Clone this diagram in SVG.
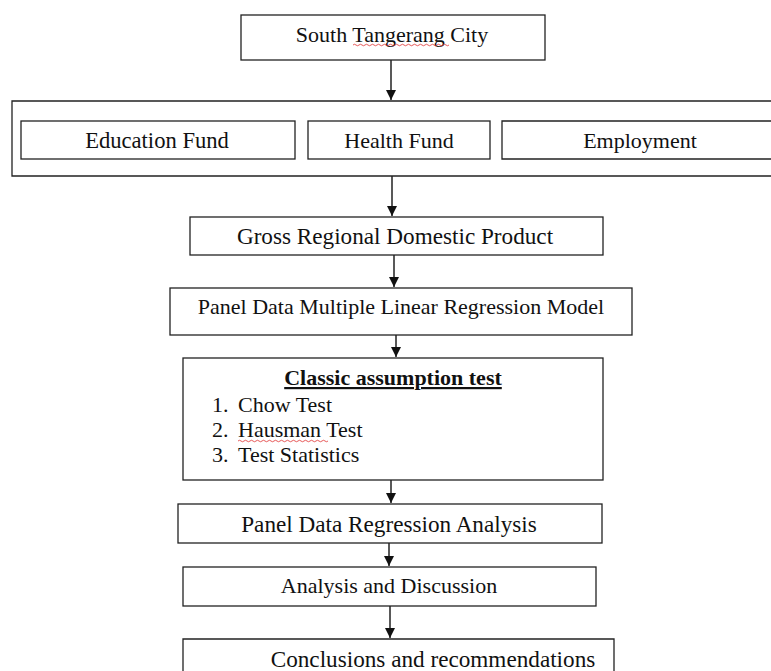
<svg xmlns="http://www.w3.org/2000/svg" width="771" height="671" viewBox="0 0 771 671">
<style>
.box{fill:#fff;stroke:#222;stroke-width:1.3}
.t{font-family:"Liberation Serif","Times New Roman",serif;font-size:22px;fill:#111}
.l{font-size:23.2px}
.c{text-anchor:middle}
.b{font-weight:bold;text-decoration:underline}
.w{fill:none;stroke:#e03030;stroke-width:0.8}
.con line{stroke:#222;stroke-width:1.5}
</style>
<defs>
<marker id="ah" markerWidth="10" markerHeight="10" refX="10" refY="5" orient="auto" markerUnits="userSpaceOnUse">
<path d="M0,0 L10,5 L0,10 Z" fill="#111"/>
</marker>
</defs>
<rect width="771" height="671" fill="#fff"/>
<g id="city">
<rect class="box" x="241" y="15" width="304" height="45"/>
<text class="t c" x="392" y="42">South Tangerang City</text>
<path class="w" d="M353,45 q1.5,-1.5 3,0 t3,0 t3,0 t3,0 t3,0 t3,0 t3,0 t3,0 t3,0 t3,0 t3,0 t3,0 t3,0 t3,0 t3,0 t3,0 t3,0 t3,0 t3,0 t3,0 t3,0 t3,0 t3,0 t3,0 t3,0 t3,0 t3,0 t3,0 t3,0 t3,0 t3,0 t3,0"/>
</g>
<g id="factors">
<path class="box" d="M775,101 H12 V176 H775"/>
<g id="education">
<rect class="box" x="21" y="121" width="274" height="38"/>
<text class="t c" x="157" y="148" style="font-size:22.6px">Education Fund</text>
</g>
<g id="health">
<rect class="box" x="308" y="121" width="182" height="38"/>
<text class="t c" x="399" y="148">Health Fund</text>
</g>
<g id="employment">
<path class="box" d="M775,121 H502 V159 H775"/>
<text class="t c" x="640" y="148">Employment</text>
</g>
</g>
<g id="grdp">
<rect class="box" x="190" y="217" width="413" height="38"/>
<text class="t l c" x="395" y="244">Gross Regional Domestic Product</text>
</g>
<g id="model">
<rect class="box" x="170" y="288" width="462" height="47"/>
<text class="t c" x="401" y="314">Panel Data Multiple Linear Regression Model</text>
</g>
<g id="classic">
<rect class="box" x="183" y="358" width="420" height="122"/>
<text class="t b c" x="393" y="385">Classic assumption test</text>
<text class="t" x="212" y="412">1.</text>
<text class="t" x="238" y="412">Chow Test</text>
<text class="t" x="212" y="437">2.</text>
<text class="t" x="238" y="437">Hausman Test</text>
<path class="w" d="M238,441 q1.5,-1.5 3,0 t3,0 t3,0 t3,0 t3,0 t3,0 t3,0 t3,0 t3,0 t3,0 t3,0 t3,0 t3,0 t3,0 t3,0 t3,0 t3,0 t3,0 t3,0 t3,0 t3,0 t3,0 t3,0 t3,0 t3,0 t3,0 t3,0 t3,0 t3,0 t3,0"/>
<text class="t" x="212" y="462">3.</text>
<text class="t" x="238" y="462">Test Statistics</text>
</g>
<g id="regression">
<rect class="box" x="178" y="504" width="424" height="39"/>
<text class="t l c" x="389" y="532">Panel Data Regression Analysis</text>
</g>
<g id="discussion">
<rect class="box" x="183" y="567" width="413" height="39"/>
<text class="t c" x="389" y="593">Analysis and Discussion</text>
</g>
<g id="conclusions">
<path class="box" d="M183,680 V639 H614 V680"/>
<text class="t l c" x="433" y="667">Conclusions and recommendations</text>
</g>
<g id="connectors" class="con">
<line x1="391" y1="60" x2="391" y2="100" marker-end="url(#ah)"/>
<line x1="392" y1="176" x2="392" y2="216" marker-end="url(#ah)"/>
<line x1="394" y1="255" x2="394" y2="287" marker-end="url(#ah)"/>
<line x1="396" y1="335" x2="396" y2="357" marker-end="url(#ah)"/>
<line x1="391" y1="480" x2="391" y2="503" marker-end="url(#ah)"/>
<line x1="389" y1="543" x2="389" y2="566" marker-end="url(#ah)"/>
<line x1="390" y1="606" x2="390" y2="638" marker-end="url(#ah)"/>
</g>
</svg>
